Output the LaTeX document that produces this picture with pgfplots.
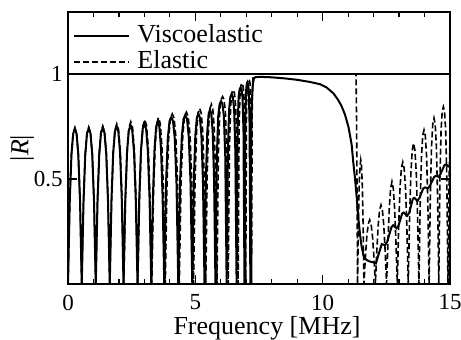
\documentclass[border=0pt]{standalone}
\usepackage{fontspec}
\setmainfont{Liberation Serif}
\usepackage{pgfplots}
\pgfplotsset{compat=1.18}
\begin{document}
\begin{tikzpicture}
\useasboundingbox (-34pt,-28pt) rectangle (196.5pt,142pt);
\begin{axis}[name=ax, at={(0,0)}, anchor=south west, scale only axis, width=191pt, height=136pt,
 xmin=0, xmax=15, ymin=0, ymax=1.295,
 xtick={0,5,10,15}, minor x tick num=4, ytick={0.5,1},
 tick align=inside, major tick length=4.5pt, minor tick length=2.5pt,
 every tick/.style={black, line width=0.6pt},
 axis line style={line width=0.8pt},
 /pgf/number format/assume math mode=true,
 ticklabel style={font=\fontsize{11.5}{12}\selectfont},
 xticklabel style={anchor=center, yshift=-9.25pt},
 yticklabel style={anchor=east, inner xsep=0pt, xshift=-2.5pt},
 xlabel={Frequency [MHz]}, ylabel={|\textit{R}|},
 label style={font=\fontsize{13}{14}\selectfont},
 xlabel style={at={(axis description cs:0.521,-0.162)}, anchor=center},
 ylabel style={at={(axis description cs:-0.12,0.5)}, anchor=center, rotate=0},
 legend style={at={(axis description cs:0,1)}, anchor=north west, xshift=2.5pt, yshift=-6pt,
   draw=none, fill=none, inner sep=0pt,
   font=\fontsize{13}{13}\selectfont,
   nodes={inner sep=0pt, text height=9.2pt, text depth=2.7pt},
   row sep=1.1pt, column sep=3.5pt, cells={anchor=west}},
 legend image code/.code={\draw[#1] (0pt,0pt) -- (27.5pt,0pt);},
]
\addplot[black, line width=0.7pt, forget plot] coordinates {(0,1) (15,1)};
\addplot[black, line width=1pt] coordinates {
(0,0) (0.068,0.393) (0.135,0.615) (0.203,0.715) (0.27,0.741) (0.338,0.715) (0.405,0.615) (0.473,0.393) (0.54,0)
(0.609,0.393) (0.678,0.616) (0.746,0.716) (0.815,0.742) (0.884,0.716) (0.953,0.616) (1.021,0.393) (1.09,0)
(1.159,0.395) (1.228,0.618) (1.296,0.719) (1.365,0.745) (1.434,0.719) (1.503,0.618) (1.571,0.395) (1.64,0)
(1.708,0.399) (1.775,0.624) (1.843,0.726) (1.91,0.752) (1.978,0.726) (2.045,0.624) (2.113,0.399) (2.18,0)
(2.249,0.401) (2.318,0.628) (2.386,0.730) (2.455,0.757) (2.524,0.730) (2.593,0.628) (2.661,0.401) (2.73,0)
(2.798,0.405) (2.865,0.635) (2.933,0.738) (3.0,0.765) (3.068,0.738) (3.135,0.635) (3.203,0.405) (3.27,0)
(3.334,0.411) (3.398,0.643) (3.461,0.748) (3.525,0.775) (3.589,0.748) (3.653,0.643) (3.716,0.411) (3.78,0)
(3.849,0.477) (3.918,0.692) (3.986,0.775) (4.055,0.795) (4.124,0.775) (4.193,0.692) (4.261,0.477) (4.33,0)
(4.399,0.483) (4.468,0.700) (4.536,0.785) (4.605,0.805) (4.674,0.785) (4.743,0.700) (4.811,0.483) (4.88,0)
(4.94,0.487) (5.0,0.706) (5.06,0.792) (5.12,0.812) (5.18,0.792) (5.24,0.706) (5.30,0.487) (5.36,0)
(5.414,0.498) (5.468,0.722) (5.521,0.809) (5.575,0.83) (5.629,0.809) (5.683,0.722) (5.736,0.498) (5.79,0)
(5.845,0.609) (5.90,0.800) (5.955,0.857) (6.01,0.87) (6.065,0.857) (6.12,0.800) (6.175,0.609) (6.23,0)
(6.279,0.634) (6.328,0.833) (6.376,0.891) (6.425,0.905) (6.474,0.891) (6.523,0.833) (6.571,0.634) (6.62,0)
(6.659,0.729) (6.698,0.888) (6.736,0.926) (6.775,0.935) (6.814,0.926) (6.853,0.888) (6.891,0.729) (6.93,0)
(6.959,0.749) (6.988,0.912) (7.016,0.950) (7.045,0.96) (7.074,0.950) (7.103,0.912) (7.131,0.749) (7.16,0)
(7.19,0.65) (7.22,0.87) (7.26,0.955) (7.30,0.978) (7.36,0.985) (7.6,0.986) (8.0,0.984) (8.5,0.979) (9.0,0.972)
(9.5,0.962) (9.9,0.951) (10.16,0.935) (10.42,0.908) (10.61,0.876) (10.75,0.845) (10.88,0.805) (11.01,0.749)
(11.07,0.71) (11.14,0.662) (11.2,0.582) (11.27,0.503) (11.34,0.408) (11.4,0.313) (11.47,0.233) (11.53,0.178)
(11.6,0.138) (11.66,0.122) (11.73,0.114) (11.85,0.107) (11.99,0.103) (12.09,0.098)
(12.22,0.15) (12.32,0.19) (12.45,0.185) (12.53,0.20) (12.70,0.27) (12.77,0.28) (12.90,0.265) (12.97,0.275)
(13.12,0.335) (13.18,0.34) (13.32,0.325) (13.40,0.34) (13.54,0.405) (13.60,0.41) (13.72,0.395) (13.80,0.41)
(13.95,0.455) (14.02,0.46) (14.13,0.455) (14.22,0.47) (14.38,0.51) (14.45,0.515) (14.55,0.51) (14.63,0.525)
(14.78,0.565) (14.85,0.57) (14.93,0.56) (15.0,0.565)
};
\addlegendentry{Viscoelastic}
\addplot[black, line width=0.8pt, dash pattern=on 3pt off 1.5pt] coordinates {
(0,0) (0.068,0.393) (0.135,0.616) (0.203,0.716) (0.27,0.742) (0.338,0.716) (0.405,0.616) (0.473,0.393) (0.54,0)
(0.609,0.395) (0.678,0.619) (0.746,0.720) (0.815,0.746) (0.884,0.720) (0.953,0.619) (1.021,0.395) (1.09,0)
(1.159,0.399) (1.228,0.624) (1.296,0.726) (1.365,0.752) (1.434,0.726) (1.503,0.624) (1.571,0.399) (1.64,0)
(1.709,0.404) (1.778,0.632) (1.846,0.735) (1.915,0.762) (1.984,0.735) (2.053,0.632) (2.121,0.404) (2.19,0)
(2.259,0.409) (2.328,0.641) (2.396,0.745) (2.465,0.772) (2.534,0.745) (2.603,0.641) (2.671,0.409) (2.74,0)
(2.809,0.414) (2.878,0.649) (2.946,0.755) (3.015,0.782) (3.084,0.755) (3.153,0.649) (3.221,0.414) (3.29,0)
(3.356,0.420) (3.423,0.657) (3.489,0.764) (3.555,0.792) (3.621,0.764) (3.688,0.657) (3.754,0.420) (3.82,0)
(3.889,0.486) (3.958,0.705) (4.026,0.790) (4.095,0.81) (4.164,0.790) (4.233,0.705) (4.301,0.486) (4.37,0)
(4.44,0.491) (4.51,0.712) (4.58,0.798) (4.65,0.818) (4.72,0.798) (4.79,0.712) (4.86,0.491) (4.93,0)
(4.99,0.502) (5.05,0.727) (5.11,0.815) (5.17,0.836) (5.23,0.815) (5.29,0.727) (5.35,0.502) (5.41,0)
(5.465,0.513) (5.52,0.744) (5.575,0.834) (5.63,0.855) (5.685,0.834) (5.74,0.744) (5.795,0.513) (5.85,0)
(5.905,0.624) (5.96,0.821) (6.015,0.879) (6.07,0.892) (6.125,0.879) (6.18,0.821) (6.235,0.624) (6.29,0)
(6.339,0.647) (6.388,0.850) (6.436,0.910) (6.485,0.924) (6.534,0.910) (6.583,0.850) (6.631,0.647) (6.68,0)
(6.718,0.746) (6.755,0.908) (6.793,0.946) (6.83,0.956) (6.868,0.946) (6.905,0.908) (6.943,0.746) (6.98,0)
(7.009,0.839) (7.038,0.951) (7.066,0.970) (7.095,0.975) (7.124,0.970) (7.153,0.951) (7.181,0.839) (7.21,0)
(7.23,0.80) (7.25,0.95) (7.27,0.99) (7.30,1.0) (11.31,1.0) (11.33,0.8) (11.35,0.45) (11.37,0)
(11.401,0.277) (11.433,0.466) (11.464,0.561) (11.495,0.59) (11.526,0.561) (11.558,0.466) (11.589,0.277) (11.62,0)
(11.676,0.125) (11.733,0.226) (11.789,0.285) (11.845,0.305) (11.901,0.285) (11.958,0.226) (12.014,0.125) (12.07,0)
(12.125,0.154) (12.18,0.278) (12.235,0.352) (12.29,0.376) (12.345,0.352) (12.40,0.278) (12.455,0.154) (12.51,0)
(12.563,0.200) (12.615,0.360) (12.668,0.455) (12.72,0.487) (12.773,0.455) (12.825,0.360) (12.878,0.200) (12.93,0)
(12.984,0.273) (13.038,0.458) (13.091,0.551) (13.145,0.58) (13.199,0.551) (13.253,0.458) (13.306,0.273) (13.36,0)
(13.413,0.315) (13.465,0.529) (13.518,0.637) (13.57,0.67) (13.623,0.637) (13.675,0.529) (13.728,0.315) (13.78,0)
(13.83,0.388) (13.88,0.608) (13.93,0.707) (13.98,0.733) (14.03,0.707) (14.08,0.608) (14.13,0.388) (14.18,0)
(14.228,0.419) (14.275,0.656) (14.323,0.762) (14.37,0.79) (14.418,0.762) (14.465,0.656) (14.513,0.419) (14.56,0)
(14.605,0.506) (14.65,0.734) (14.695,0.823) (14.74,0.844) (14.785,0.823) (14.83,0.734) (14.875,0.506) (14.92,0)
(14.965,0.50) (15.0,0.70)
};
\addlegendentry{Elastic}
\end{axis}
\end{tikzpicture}
\end{document}
